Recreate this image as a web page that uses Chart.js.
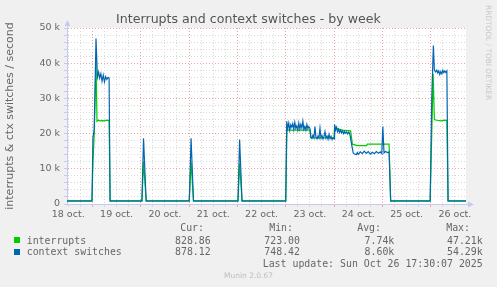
<!DOCTYPE html>
<html>
<head>
<meta charset="utf-8">
<script src="https://cdn.jsdelivr.net/npm/chart.js@4"></script>
<style>
  html, body { margin: 0; padding: 0; background: #f0f0f0; }
  #wrap { position: relative; width: 497px; height: 287px; overflow: hidden; }
  #graph { position: absolute; left: 0; top: 0; }
  .t { position: absolute; white-space: pre; color: #666; }
  .title { font: 12.6px "DejaVu Sans", sans-serif; color: #555; left: 0; width: 497px; text-align: center; top: 12px; line-height: 14px; }
  .mono { font: 9.9px "DejaVu Sans Mono", monospace; line-height: 12px; }
  .sq { position: absolute; width: 6px; height: 6px; }
  .rrd { position: absolute; left: 484px; top: 5px; writing-mode: vertical-rl; font: 7.4px "DejaVu Sans", sans-serif; line-height: 8px; color: #c8c8c8; white-space: pre; }
  .ver { font: 7.5px "DejaVu Sans", sans-serif; color: #bdbdbd; left: 0; width: 497px; text-align: center; top: 271px; line-height: 10px; }
</style>
</head>
<body>
<div id="wrap">
  <canvas id="graph" width="497" height="287"></canvas>
  <div class="t title">Interrupts and context switches - by week</div>
  <div class="rrd">RRDTOOL / TOBI OETIKER</div>

  <div class="t mono" style="right:293px; top:222px;">Cur:</div>
  <div class="t mono" style="right:204px; top:222px;">Min:</div>
  <div class="t mono" style="right:116px; top:222px;">Avg:</div>
  <div class="t mono" style="right:27px; top:222px;">Max:</div>

  <div class="sq" style="left:14px; top:237px; background:#00cc00;"></div>
  <div class="t mono" style="left:26.7px; top:234.5px;">interrupts</div>
  <div class="t mono" style="right:286.3px; top:234.5px;">828.86</div>
  <div class="t mono" style="right:197px; top:234.5px;">723.00</div>
  <div class="t mono" style="right:102.7px; top:234.5px;">7.74k</div>
  <div class="t mono" style="right:14.3px; top:234.5px;">47.21k</div>

  <div class="sq" style="left:14px; top:249px; background:#0066b3;"></div>
  <div class="t mono" style="left:26.7px; top:246px;">context switches</div>
  <div class="t mono" style="right:286.3px; top:246px;">878.12</div>
  <div class="t mono" style="right:197px; top:246px;">748.42</div>
  <div class="t mono" style="right:102.7px; top:246px;">8.60k</div>
  <div class="t mono" style="right:14.3px; top:246px;">54.29k</div>

  <div class="t mono" style="right:14.3px; top:258px;">Last update: Sun Oct 26 17:30:07 2025</div>
  <div class="t ver">Munin 2.0.67</div>
</div>

<script>
// hours counted from 18 oct 00:00, one value each
const dayLabels = ["18 oct.", "19 oct.", "20 oct.", "21 oct.", "22 oct.", "23 oct.", "24 oct.", "25 oct.", "26 oct."];
const startHour = 11.4;
const endHour = 209.5;

const ctxHours = [
  11.4, 23.8, 24.3, 24.9, 25.8, 26.5, 27.1, 27.6, 28.2, 28.8, 29.4, 30.0, 30.6, 31.2, 31.8, 32.3, 32.8,
  48.6, 49.4, 50.7,
  72.1, 73.0, 74.2,
  96.3, 97.1, 98.3,
  120.0, 120.5, 121.0, 121.5, 122.0, 122.5, 123.0, 123.5, 124.0, 124.5, 125.0, 125.5, 126.0, 126.5,
  127.0, 127.5, 128.0, 128.5, 129.0, 129.5, 130.0, 130.5, 131.0, 131.5, 132.0,
  132.5, 133.0, 133.5, 134.0, 134.5, 135.0, 135.5, 136.0, 136.5, 137.0, 137.5, 138.0, 138.5, 139.0,
  139.5, 140.0, 140.5, 141.0, 141.5, 142.0, 142.5, 143.0, 143.5, 144.0,
  144.25, 144.75, 145.25, 145.75, 146.25, 146.75, 147.25, 147.75, 148.25, 148.75, 149.25, 149.75,
  150.25, 150.75, 151.25, 151.75, 152.25, 153.0, 153.5, 154.0, 155.0, 155.5, 156.0, 157.0, 158.0,
  159.0, 160.0, 161.0, 162.0, 163.0, 164.0, 165.0, 166.0, 167.0, 167.7, 168.2, 168.8, 169.5, 170.5,
  171.3, 172.1,
  191.7, 192.5, 193.3, 193.8, 194.5, 195.0, 195.5, 196.0, 196.5, 197.0, 197.5, 198.0, 198.5, 199.0,
  199.5, 200.0, 200.6, 209.5
];
const ctxValues = [
  880, 880, 19000, 21000, 47000, 36000, 37500, 35800, 37000, 34900, 36600, 34700, 36200, 35400, 36000, 35800, 880,
  880, 18700, 880,
  880, 18700, 880,
  880, 18300, 880,
  880, 23500, 21500, 23000, 21000, 22500, 21800, 22800, 21200, 23200, 21500, 22200, 21000, 23000,
  21300, 22600, 21600, 23500, 21200, 22000, 21000, 22600, 21400, 22000, 21500,
  19000, 18600, 19500, 18800, 22000, 19000, 18500, 19300, 18700, 21500, 18800, 19400, 18500, 19200,
  20500, 18700, 19300, 18400, 19800, 18600, 19200, 18300, 18800, 18500,
  22600, 21000, 21800, 20500, 21200, 20300, 21000, 20200, 20800, 20000, 20600, 20100,
  20500, 19900, 20400, 20000, 18500, 16000, 14500, 14300, 14000, 14600, 14100, 14800, 14300,
  15000, 14400, 14900, 14200, 14700, 14300, 14900, 14400, 14800, 14300, 22000, 14500, 14900, 14600,
  14800, 880,
  880, 30000, 45000, 38000, 37500, 38000, 37200, 37800, 36800, 37600, 37000, 38000, 37300, 37800,
  37400, 37800, 880, 880
];

const intrHours = [
  11.4, 23.8, 24.3, 24.9, 25.8, 26.3, 27.0, 28.0, 29.0, 30.0, 31.0, 32.3, 32.8,
  48.6, 49.4, 50.7,
  72.1, 73.0, 74.2,
  96.3, 97.1, 98.3,
  120.0, 120.6, 121.2, 126.0, 132.0, 132.4, 143.9, 144.25, 145.0, 148.0, 152.2, 153.1, 155.5, 160.2,
  160.5, 171.3, 172.1,
  191.7, 192.5, 193.2, 193.8, 195.0, 197.0, 199.0, 200.0, 200.6, 209.5
];
const intrValues = [
  830, 830, 12000, 19500, 40500, 23500, 23800, 23600, 23700, 23600, 23800, 23700, 830,
  830, 12000, 830,
  830, 12000, 830,
  830, 11500, 830,
  830, 21500, 21000, 21000, 21000, 18800, 18800, 21800, 21500, 21000, 20800, 17000, 16600, 16600,
  17000, 17000, 830,
  830, 20000, 37000, 24000, 23800, 23600, 23800, 23700, 830, 830
];

function points(hours, values) {
  return hours.map((h, i) => ({ x: h, y: values[i] }));
}

const minorGrid = "#d9d9d9";
const majorGrid = "#eaa6a6";
const axisColor = "#c6caf0";

// arrow heads at the end of both axes, as rrdtool draws them
const arrows = {
  id: "arrows",
  afterDraw(chart) {
    const { ctx, chartArea } = chart;
    const l = chartArea.left + 0.5;
    const b = chartArea.bottom + 0.5;
    ctx.save();
    ctx.strokeStyle = axisColor;
    ctx.fillStyle = axisColor;
    ctx.lineWidth = 1;
    ctx.beginPath();
    ctx.moveTo(l, chartArea.top);
    ctx.lineTo(l, chartArea.top - 4);
    ctx.moveTo(chartArea.right, b);
    ctx.lineTo(chartArea.right + 4, b);
    ctx.stroke();
    ctx.beginPath();
    ctx.moveTo(l - 3, chartArea.top - 2);
    ctx.lineTo(l + 3, chartArea.top - 2);
    ctx.lineTo(l, chartArea.top - 8);
    ctx.closePath();
    ctx.fill();
    ctx.beginPath();
    ctx.moveTo(chartArea.right + 2, b - 3);
    ctx.lineTo(chartArea.right + 2, b + 3);
    ctx.lineTo(chartArea.right + 8, b);
    ctx.closePath();
    ctx.fill();
    ctx.restore();
  },
  beforeDraw(chart) {
    const { ctx, chartArea } = chart;
    ctx.save();
    ctx.fillStyle = "#ffffff";
    ctx.fillRect(chartArea.left, chartArea.top, chartArea.right - chartArea.left, chartArea.bottom - chartArea.top);
    ctx.restore();
  }
};

new Chart(document.getElementById("graph"), {
  type: "line",
  data: {
    datasets: [
      {
        label: "context switches",
        data: points(ctxHours, ctxValues),
        borderColor: "#0066b3",
        borderWidth: 1.2,
        order: 0
      },
      {
        label: "interrupts",
        data: points(intrHours, intrValues),
        borderColor: "#00cc00",
        borderWidth: 1.2,
        order: 1
      }
    ]
  },
  options: {
    responsive: false,
    animation: false,
    events: [],
    elements: { point: { radius: 0 }, line: { tension: 0 } },
    layout: { padding: { left: 0, top: 28, right: 31, bottom: 0 } },
    plugins: { legend: { display: false }, tooltip: { enabled: false }, title: { display: false } },
    scales: {
      x: {
        type: "linear",
        min: startHour,
        max: endHour,
        afterFit: s => { s.height = 83; },
        ticks: {
          stepSize: 6,
          includeBounds: false,
          autoSkip: false,
          maxRotation: 0,
          padding: 2,
          color: "#666",
          font: { family: "DejaVu Sans", size: 9.5 },
          callback: v => (v % 24 === 12 ? dayLabels[Math.floor(v / 24)] : "")
        },
        grid: {
          color: c => (c.tick && c.tick.value % 24 === 0 ? majorGrid : minorGrid),
          tickColor: c => (c.tick && c.tick.value % 24 === 0 ? majorGrid : minorGrid),
          tickLength: 3
        },
        border: { color: axisColor, dash: [1, 2] }
      },
      y: {
        min: 0,
        max: 50000,
        afterFit: s => { s.width = 67; },
        ticks: {
          stepSize: 2000,
          autoSkip: false,
          padding: 4,
          color: "#666",
          font: { family: "DejaVu Sans", size: 9.5 },
          callback: v => (v % 10000 === 0 ? (v === 0 ? "0" : v / 1000 + " k") : "")
        },
        grid: {
          color: c => (c.tick && c.tick.value % 10000 === 0 ? majorGrid : minorGrid),
          tickColor: axisColor,
          tickLength: 3
        },
        border: { color: axisColor, dash: [1, 2] },
        title: {
          display: true,
          text: "interrupts & ctx switches / second",
          color: "#666",
          font: { family: "DejaVu Sans", size: 11 },
          padding: { top: 4, bottom: 0 }
        }
      }
    }
  },
  plugins: [arrows]
});
</script>
</body>
</html>
